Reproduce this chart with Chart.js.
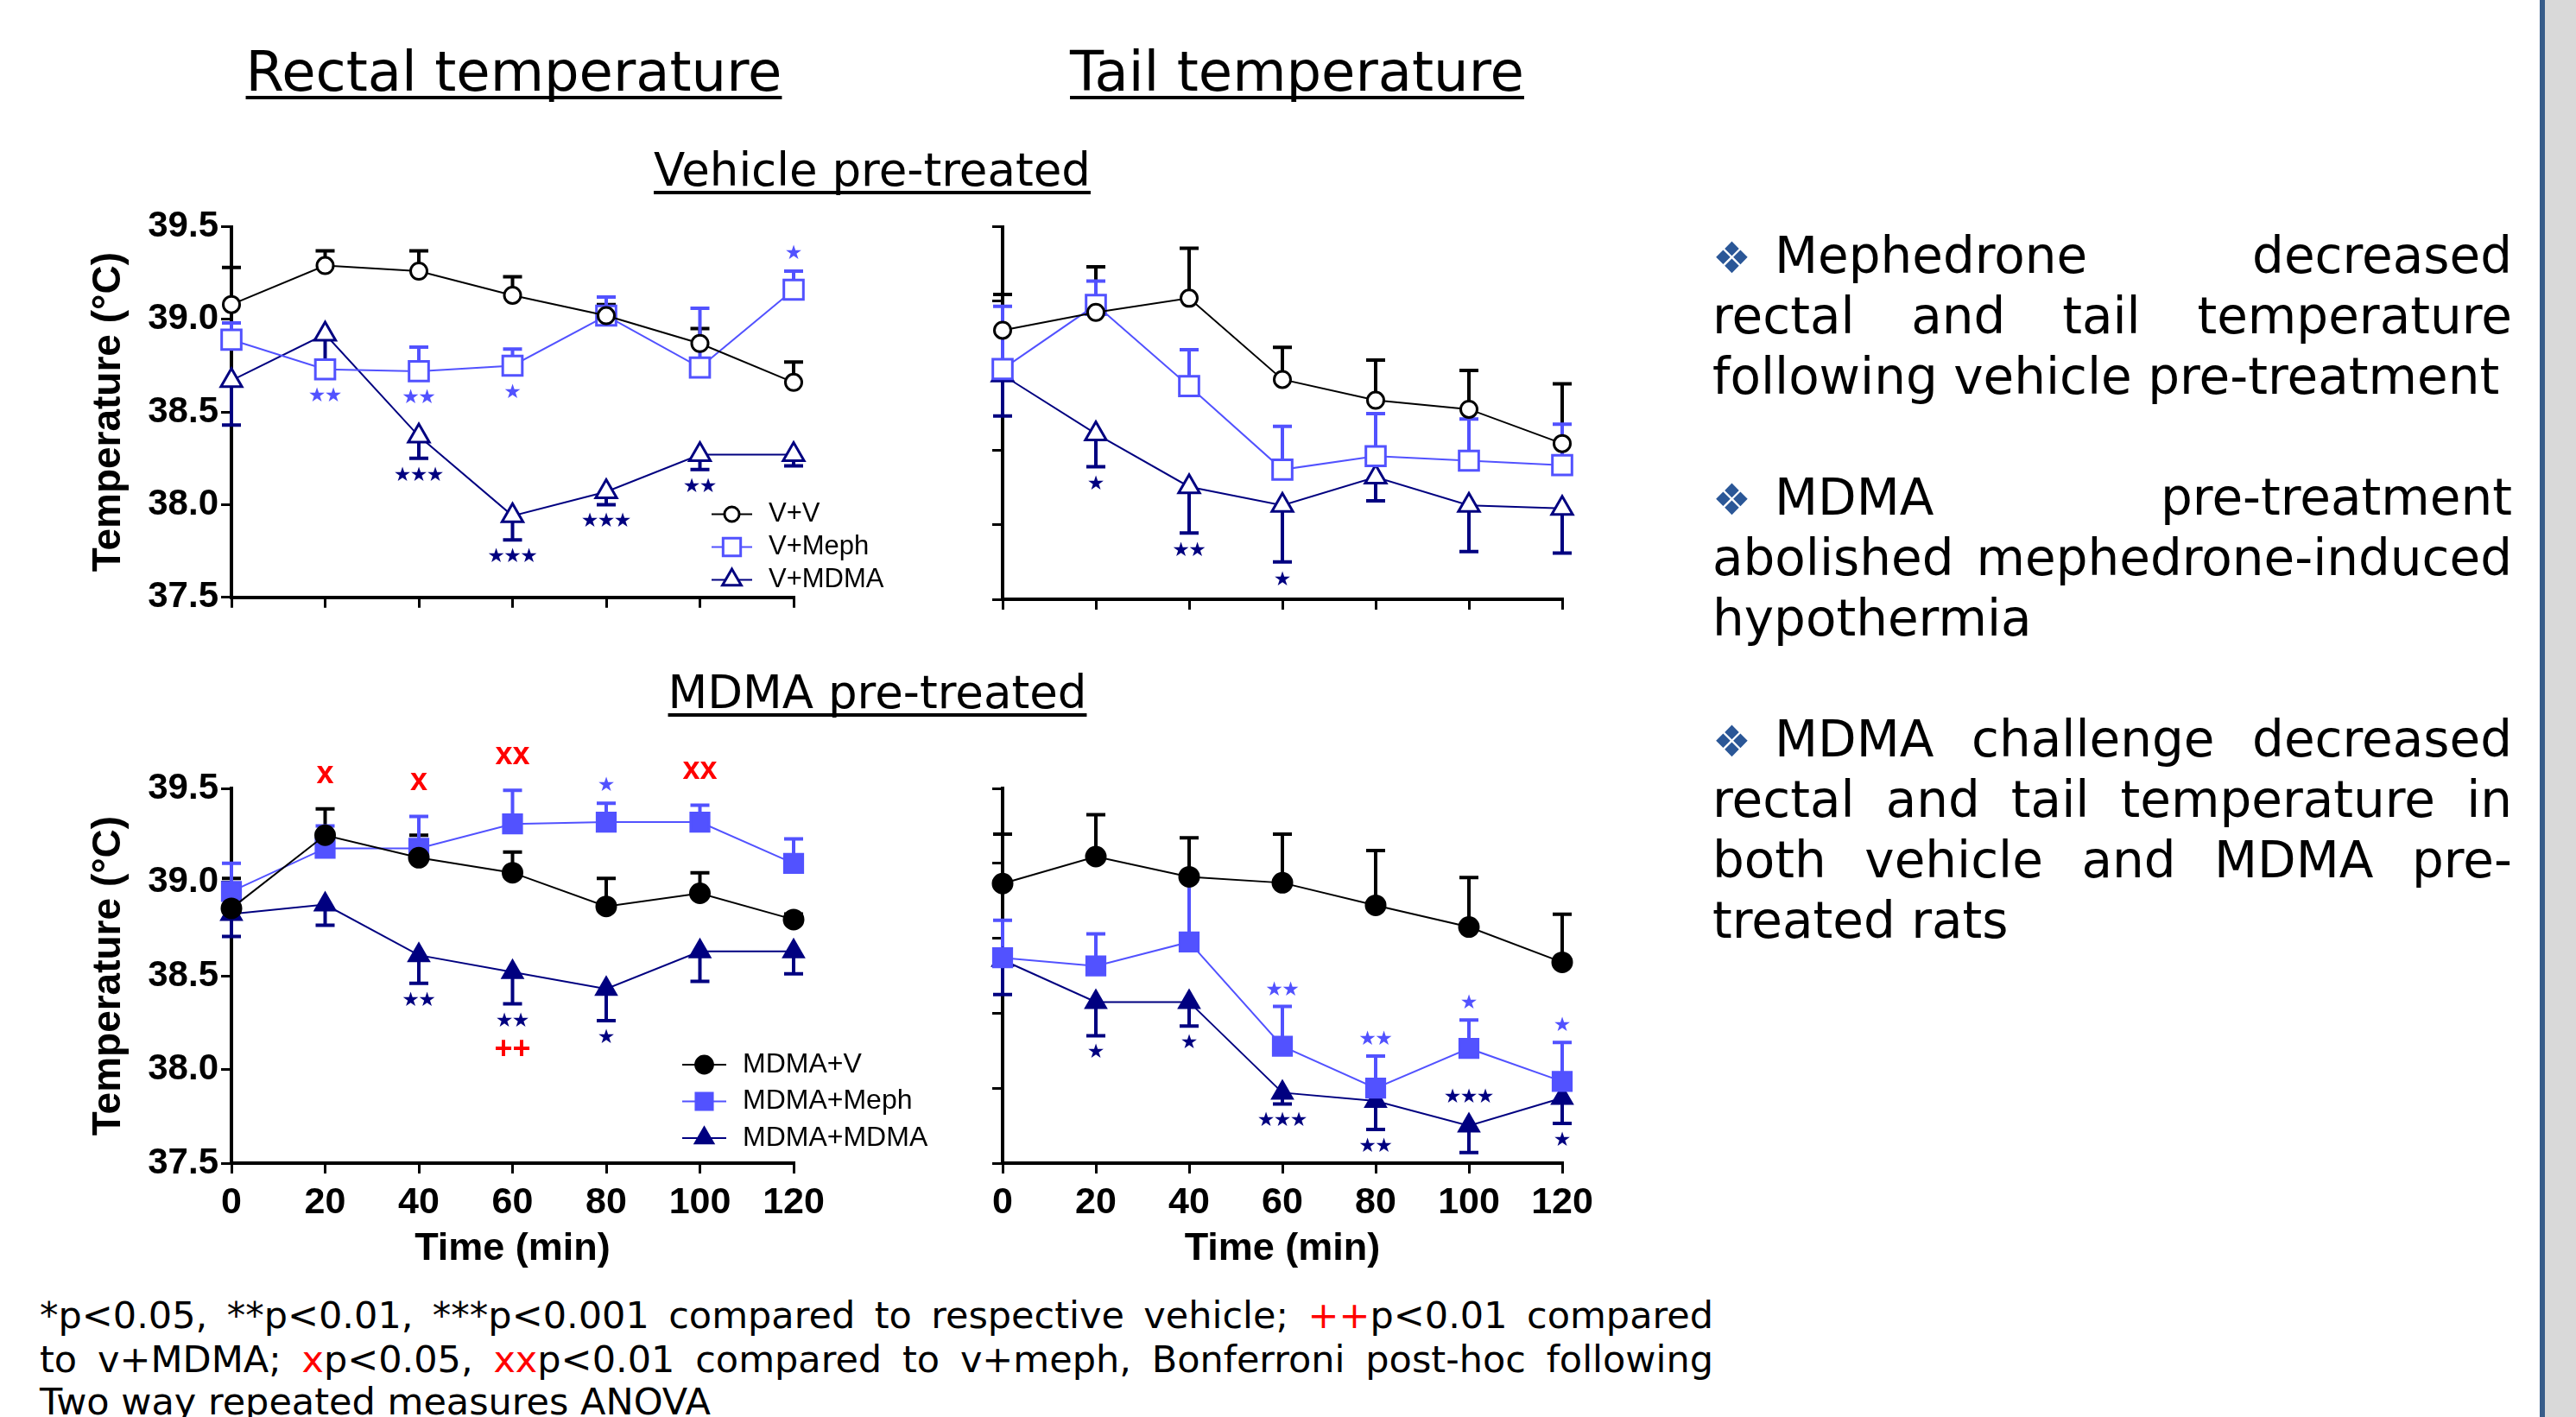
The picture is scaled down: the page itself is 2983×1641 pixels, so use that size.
<!DOCTYPE html>
<html>
<head>
<meta charset="utf-8">
<title>Rectal and tail temperature</title>
<script src="https://cdn.jsdelivr.net/npm/chart.js@4.4.1/dist/chart.umd.min.js"></script>
<style>
  html, body { margin: 0; padding: 0; background: #fff; }
  body { width: 2983px; height: 1641px; position: relative; overflow: hidden;
         font-family: "DejaVu Sans", Verdana, sans-serif; color: #000; }
  canvas { position: absolute; }
  .head { position: absolute; line-height: 1; white-space: nowrap; transform: translateX(-50%);
          text-decoration: underline; text-decoration-thickness: 4px;
          text-underline-offset: 6px; text-decoration-skip-ink: none; }
  .side div { position: absolute; left: 1983px; width: 926px; font-size: 58px; line-height: 1; }
  .j { text-align: justify; text-align-last: justify; }
  .bul { display: inline-block; width: 72px; font-size: 50px; color: #2b5797; }
  .foot div { position: absolute; left: 46px; width: 1938px; font-size: 43px; line-height: 1; }
  .red { color: #ff0000; }
</style>
</head>
<body>

<div class="head" style="left:595px; top:51px; font-size:64px;">Rectal temperature</div>
<div class="head" style="left:1502px; top:51px; font-size:64px;">Tail temperature</div>
<div class="head" style="left:1010px; top:170px; font-size:53px;">Vehicle pre-treated</div>
<div class="head" style="left:1016px; top:775px; font-size:53px;">MDMA pre-treated</div>

<canvas id="c1" width="1080" height="520" style="left:0px; top:200px;"></canvas>
<canvas id="c2" width="780" height="520" style="left:1100px; top:200px;"></canvas>
<canvas id="c3" width="1100" height="640" style="left:0px; top:840px;"></canvas>
<canvas id="c4" width="780" height="640" style="left:1100px; top:840px;"></canvas>

<div class="side">
  <div class="j" style="top:267px;"><span class="bul">❖</span>Mephedrone decreased</div>
  <div class="j" style="top:337px;">rectal and tail temperature</div>
  <div style="top:407px;">following vehicle pre-treatment</div>
  <div class="j" style="top:547px;"><span class="bul">❖</span>MDMA pre-treatment</div>
  <div class="j" style="top:617px;">abolished mephedrone-induced</div>
  <div style="top:687px;">hypothermia</div>
  <div class="j" style="top:827px;"><span class="bul">❖</span>MDMA challenge decreased</div>
  <div class="j" style="top:897px;">rectal and tail temperature in</div>
  <div class="j" style="top:967px;">both vehicle and MDMA pre-</div>
  <div style="top:1037px;">treated rats</div>
</div>

<div class="foot">
  <div class="j" style="top:1502px;">*p&lt;0.05, **p&lt;0.01, ***p&lt;0.001 compared to respective vehicle; <span class="red">++</span>p&lt;0.01 compared</div>
  <div class="j" style="top:1553px;">to v+MDMA; <span class="red">x</span>p&lt;0.05, <span class="red">xx</span>p&lt;0.01 compared to v+meph, Bonferroni post-hoc following</div>
  <div style="top:1602px;">Two way repeated measures ANOVA</div>
</div>

<div style="position:absolute; left:2941px; top:0; width:6px; height:1641px; background:#385d8a;"></div>
<div style="position:absolute; left:2947px; top:0; width:36px; height:1641px; background:#d9d9d9;"></div>

<script>
// time points (min) and axis ticks
const time = [0, 20, 40, 60, 80, 100, 120];
const rectalTicks = [37.5, 38.0, 38.5, 39.0, 39.5];
const tailTicks = [0, 1, 2, 3, 4, 5];   // tail axis has no printed labels

const vehLabels = ['V+V', 'V+Meph', 'V+MDMA'];
const mdmaLabels = ['MDMA+V', 'MDMA+Meph', 'MDMA+MDMA'];

// rectal, vehicle pre-treated (°C) and SEM
const rvV = [39.08, 39.29, 39.26, 39.13, 39.02, 38.87, 38.66];
const rvVSem = [0.20, 0.08, 0.11, 0.10, 0.06, 0.08, 0.11];
const rvMeph = [38.89, 38.73, 38.72, 38.75, 39.02, 38.74, 39.16];
const rvMephSem = [0.09, 0.04, 0.13, 0.09, 0.10, 0.32, 0.10];
const rvMdma = [38.67, 38.92, 38.37, 37.94, 38.07, 38.27, 38.27];
const rvMdmaSem = [0.24, 0.14, 0.12, 0.13, 0.07, 0.08, 0.06];

// tail, vehicle pre-treated (axis units, unlabelled)
const tvV = [3.61, 3.85, 4.04, 2.95, 2.67, 2.55, 2.09];
const tvVSem = [0.48, 0.61, 0.67, 0.43, 0.54, 0.52, 0.80];
const tvMeph = [3.09, 3.95, 2.86, 1.74, 1.92, 1.86, 1.80];
const tvMephSem = [0.84, 0.32, 0.49, 0.58, 0.57, 0.56, 0.55];
const tvMdma = [3.01, 2.22, 1.51, 1.26, 1.64, 1.26, 1.22];
const tvMdmaSem = [0.55, 0.44, 0.62, 0.76, 0.32, 0.62, 0.60];

// rectal, MDMA pre-treated (°C)
const rmV = [38.86, 39.25, 39.13, 39.05, 38.87, 38.94, 38.80];
const rmVSem = [0.16, 0.14, 0.12, 0.11, 0.15, 0.11, 0.03];
const rmMeph = [38.95, 39.18, 39.18, 39.31, 39.32, 39.32, 39.10];
const rmMephSem = [0.15, 0.12, 0.17, 0.18, 0.10, 0.09, 0.13];
const rmMdma = [38.83, 38.88, 38.61, 38.52, 38.43, 38.63, 38.63];
const rmMdmaSem = [0.12, 0.11, 0.15, 0.17, 0.17, 0.16, 0.12];

// tail, MDMA pre-treated
const tmV = [3.73, 4.09, 3.82, 3.74, 3.44, 3.15, 2.68];
const tmVSem = [0.66, 0.56, 0.52, 0.65, 0.73, 0.66, 0.64];
const tmMeph = [2.74, 2.63, 2.95, 1.56, 1.00, 1.53, 1.09];
const tmMephSem = [0.50, 0.43, 0.82, 0.53, 0.43, 0.38, 0.52];
const tmMdma = [2.71, 2.15, 2.15, 0.94, 0.83, 0.50, 0.87];
const tmMdmaSem = [0.46, 0.45, 0.32, 0.15, 0.38, 0.36, 0.34];

// significance marks per time point
const rvMephSig = ['', '**', '**', '*', '', '', '*'];
const rvMdmaSig = ['', '', '***', '***', '***', '**', ''];
const tvMdmaSig = ['', '*', '**', '*', '', '', ''];
const rmMephSig = ['', '', '', '', '*', '', ''];
const rmVsMephSig = ['', 'x', 'x', 'xx', '', 'xx', ''];
const rmMdmaSig = ['', '', '**', '**', '*', '', ''];
const rmVsMdmaSig = ['', '', '', '++', '', '', ''];
const tmMephSig = ['', '', '', '**', '**', '*', '*'];
const tmMdmaSig = ['', '*', '*', '***', '**', '***', '*'];

const BLACK = '#000000', MEPH = '#5252ff', NAVY = '#000080';
Chart.defaults.font.family = '"Liberation Sans", Arial, sans-serif';
Chart.defaults.color = '#000';

function series(label, vals, sem, dir, color, style, filled, r) {
  return {
    label: label, vals: vals, err: sem, errDir: dir,
    data: time.map((t, i) => ({ x: t, y: vals[i] })),
    borderColor: color, borderWidth: 2,
    pointStyle: style, pointRadius: r, pointHoverRadius: r,
    pointBackgroundColor: filled ? color : '#fff',
    pointBorderColor: color, pointBorderWidth: 3,
    tension: 0, fill: false, clip: false
  };
}

// SEM bars, drawn under the symbols
const errorBars = {
  id: 'errorBars',
  beforeDatasetsDraw(chart) {
    const ctx = chart.ctx, ys = chart.scales.y;
    chart.data.datasets.forEach((ds, i) => {
      const meta = chart.getDatasetMeta(i);
      ctx.save();
      ctx.strokeStyle = ds.borderColor;
      ctx.lineWidth = 4;
      meta.data.forEach((pt, j) => {
        if (!ds.err[j]) return;
        const ye = ys.getPixelForValue(ds.vals[j] + ds.errDir * ds.err[j]);
        ctx.beginPath();
        ctx.moveTo(pt.x, pt.y);
        ctx.lineTo(pt.x, ye);
        ctx.moveTo(pt.x - 11, ye);
        ctx.lineTo(pt.x + 11, ye);
        ctx.stroke();
      });
      ctx.restore();
    });
  }
};

function extent(chart, di, j, up) {
  const ds = chart.data.datasets[di];
  const pt = chart.getDatasetMeta(di).data[j];
  let half = ds.pointRadius;
  if (ds.pointStyle === 'rect') half *= 0.71;
  if (ds.pointStyle === 'triangle' && !up) half *= 0.5;
  let y = up ? pt.y - half : pt.y + half;
  if (ds.err[j] && (ds.errDir > 0) === up) {
    const ye = chart.scales.y.getPixelForValue(ds.vals[j] + ds.errDir * ds.err[j]);
    y = up ? Math.min(y, ye) : Math.max(y, ye);
  }
  return y;
}

// stars / x / ++ above or below the points
const sigMarks = {
  id: 'sigMarks',
  afterDatasetsDraw(chart, args, opts) {
    const ctx = chart.ctx;
    (opts.items || []).forEach(it => {
      it.marks.forEach((m, j) => {
        if (!m) return;
        const side = Array.isArray(it.side) ? it.side[j] : it.side;
        const up = side === 'a';
        const list = it.ds < 0 ? chart.data.datasets.map((d, k) => k) : [it.ds];
        let y = up ? Infinity : -Infinity;
        list.forEach(k => {
          const e = extent(chart, k, j, up);
          y = up ? Math.min(y, e) : Math.max(y, e);
        });
        y += up ? -it.gap : it.gap;
        const x = chart.getDatasetMeta(list[0]).data[j].x;
        ctx.save();
        ctx.textAlign = 'center';
        ctx.textBaseline = 'middle';
        if (it.kind === 'star') {
          ctx.fillStyle = chart.data.datasets[it.ds].borderColor;
          ctx.font = '23px "DejaVu Sans"';
          const n = m.length;
          for (let k = 0; k < n; k++) ctx.fillText('★', x + (k - (n - 1) / 2) * 19, y);
        } else {
          ctx.fillStyle = it.color;
          ctx.font = 'bold 36px "Liberation Sans", Arial';
          ctx.fillText(m, x, y);
        }
        ctx.restore();
      });
    });
  }
};

// small legend inside the plot
const boxLegend = {
  id: 'boxLegend',
  afterDraw(chart, args, opts) {
    if (opts.x0 === undefined) return;
    const ctx = chart.ctx;
    chart.data.datasets.forEach((ds, i) => {
      const y = opts.y0 + i * opts.dy;
      const mx = (opts.x0 + opts.x1) / 2;
      ctx.save();
      ctx.strokeStyle = ds.borderColor;
      ctx.lineWidth = 2;
      ctx.beginPath();
      ctx.moveTo(opts.x0, y);
      ctx.lineTo(opts.x1, y);
      ctx.stroke();
      ctx.fillStyle = ds.pointBackgroundColor;
      ctx.strokeStyle = ds.pointBorderColor;
      ctx.lineWidth = ds.pointBorderWidth;
      Chart.helpers.drawPoint(ctx, { pointStyle: ds.pointStyle, radius: ds.pointRadius * 0.9, rotation: 0, borderWidth: ds.pointBorderWidth }, mx, y);
      ctx.fillStyle = '#000';
      ctx.font = opts.font;
      ctx.textAlign = 'left';
      ctx.textBaseline = 'middle';
      ctx.fillText(ds.label, opts.tx, y);
      ctx.restore();
    });
  }
};

function buildChart(id, c) {
  const yTicks = c.rectal ? rectalTicks : tailTicks;
  return new Chart(document.getElementById(id), {
    type: 'line',
    data: { datasets: c.datasets },
    options: {
      responsive: false, animation: false, devicePixelRatio: 1,
      layout: { autoPadding: false, padding: c.pad },
      events: [],
      plugins: {
        legend: { display: false }, tooltip: { enabled: false },
        sigMarks: { items: c.sigs }, boxLegend: c.legend || {}
      },
      scales: {
        x: {
          type: 'linear', min: 0, max: 120,
          afterBuildTicks: s => { s.ticks = time.map(v => ({ value: v })); },
          afterFit: s => { s.height = c.xh; },
          ticks: { display: c.xLabels, font: { size: 43, weight: 'bold' }, color: '#000', padding: 8, maxRotation: 0 },
          grid: { drawOnChartArea: false, drawTicks: true, tickLength: 12, lineWidth: 3, color: '#000' },
          border: { display: true, width: 4, color: '#000' },
          title: { display: c.xLabels, text: 'Time (min)', color: '#000',
                   font: { size: 45, weight: 'bold' }, padding: { top: 0, bottom: 6 } }
        },
        y: {
          type: 'linear', min: yTicks[0], max: yTicks[yTicks.length - 1],
          afterBuildTicks: s => { s.ticks = yTicks.map(v => ({ value: v })); },
          afterFit: s => { s.width = c.yw; },
          ticks: { display: c.rectal, font: { size: 42, weight: 'bold' }, color: '#000', padding: 3,
                   callback: v => Number(v).toFixed(1) },
          grid: { drawOnChartArea: false, drawTicks: true, tickLength: 12, lineWidth: 3, color: '#000' },
          border: { display: true, width: 4, color: '#000' },
          title: { display: c.rectal, text: 'Temperature (°C)', color: '#000',
                   font: { size: 46, weight: 'bold' }, padding: { top: 99, bottom: 0 } }
        }
      }
    },
    plugins: [errorBars, sigMarks, boxLegend]
  });
}

// vehicle pre-treated, rectal
buildChart('c1', {
  rectal: true, xLabels: false, yw: 268, xh: 26,
  pad: { left: 0, top: 62.5, right: 161, bottom: 0 },
  datasets: [
    series(vehLabels[0], rvV, rvVSem, 1, BLACK, 'circle', false, 9.5),
    series(vehLabels[1], rvMeph, rvMephSem, 1, MEPH, 'rect', false, 16),
    series(vehLabels[2], rvMdma, rvMdmaSem, -1, NAVY, 'triangle', false, 14)
  ],
  sigs: [
    { ds: 1, marks: rvMephSig, side: ['b', 'b', 'b', 'b', 'b', 'b', 'a'], kind: 'star', gap: 20 },
    { ds: 2, marks: rvMdmaSig, side: 'b', kind: 'star', gap: 20 }
  ],
  legend: { x0: 824, x1: 871, tx: 890, y0: 395.5, dy: 38, font: '31px "Liberation Sans", Arial' }
});

// vehicle pre-treated, tail
buildChart('c2', {
  rectal: false, xLabels: false, yw: 61, xh: 26,
  pad: { left: 0, top: 62.5, right: 71, bottom: 0 },
  datasets: [
    series(vehLabels[0], tvV, tvVSem, 1, BLACK, 'circle', false, 9.5),
    series(vehLabels[1], tvMeph, tvMephSem, 1, MEPH, 'rect', false, 16),
    series(vehLabels[2], tvMdma, tvMdmaSem, -1, NAVY, 'triangle', false, 14)
  ],
  sigs: [ { ds: 2, marks: tvMdmaSig, side: 'b', kind: 'star', gap: 21 } ]
});

// MDMA pre-treated, rectal
buildChart('c3', {
  rectal: true, xLabels: true, yw: 268, xh: 133,
  pad: { left: 0, top: 73, right: 181, bottom: 0 },
  datasets: [
    series(mdmaLabels[0], rmV, rmVSem, 1, BLACK, 'circle', true, 11),
    series(mdmaLabels[1], rmMeph, rmMephSem, 1, MEPH, 'rect', true, 15),
    series(mdmaLabels[2], rmMdma, rmMdmaSem, -1, NAVY, 'triangle', true, 13)
  ],
  sigs: [
    { ds: 1, marks: rmMephSig, side: 'a', kind: 'star', gap: 20 },
    { ds: -1, marks: rmVsMephSig, side: 'a', kind: 'text', color: '#ff0000', gap: 40 },
    { ds: 2, marks: rmMdmaSig, side: 'b', kind: 'star', gap: 20 },
    { ds: 2, marks: rmVsMdmaSig, side: 'b', kind: 'text', color: '#ff0000', gap: 54 }
  ],
  legend: { x0: 790, x1: 841, tx: 860, y0: 393, dy: 42.5, font: '32px "Liberation Sans", Arial' }
});

// MDMA pre-treated, tail
buildChart('c4', {
  rectal: false, xLabels: true, yw: 61, xh: 133,
  pad: { left: 0, top: 73, right: 71, bottom: 0 },
  datasets: [
    series(mdmaLabels[0], tmV, tmVSem, 1, BLACK, 'circle', true, 11),
    series(mdmaLabels[1], tmMeph, tmMephSem, 1, MEPH, 'rect', true, 15),
    series(mdmaLabels[2], tmMdma, tmMdmaSem, -1, NAVY, 'triangle', true, 13)
  ],
  sigs: [
    { ds: 1, marks: tmMephSig, side: 'a', kind: 'star', gap: 19 },
    { ds: 2, marks: tmMdmaSig, side: ['b', 'b', 'b', 'b', 'b', 'a', 'b'], kind: 'star', gap: 20 }
  ]
});
</script>
</body>
</html>
